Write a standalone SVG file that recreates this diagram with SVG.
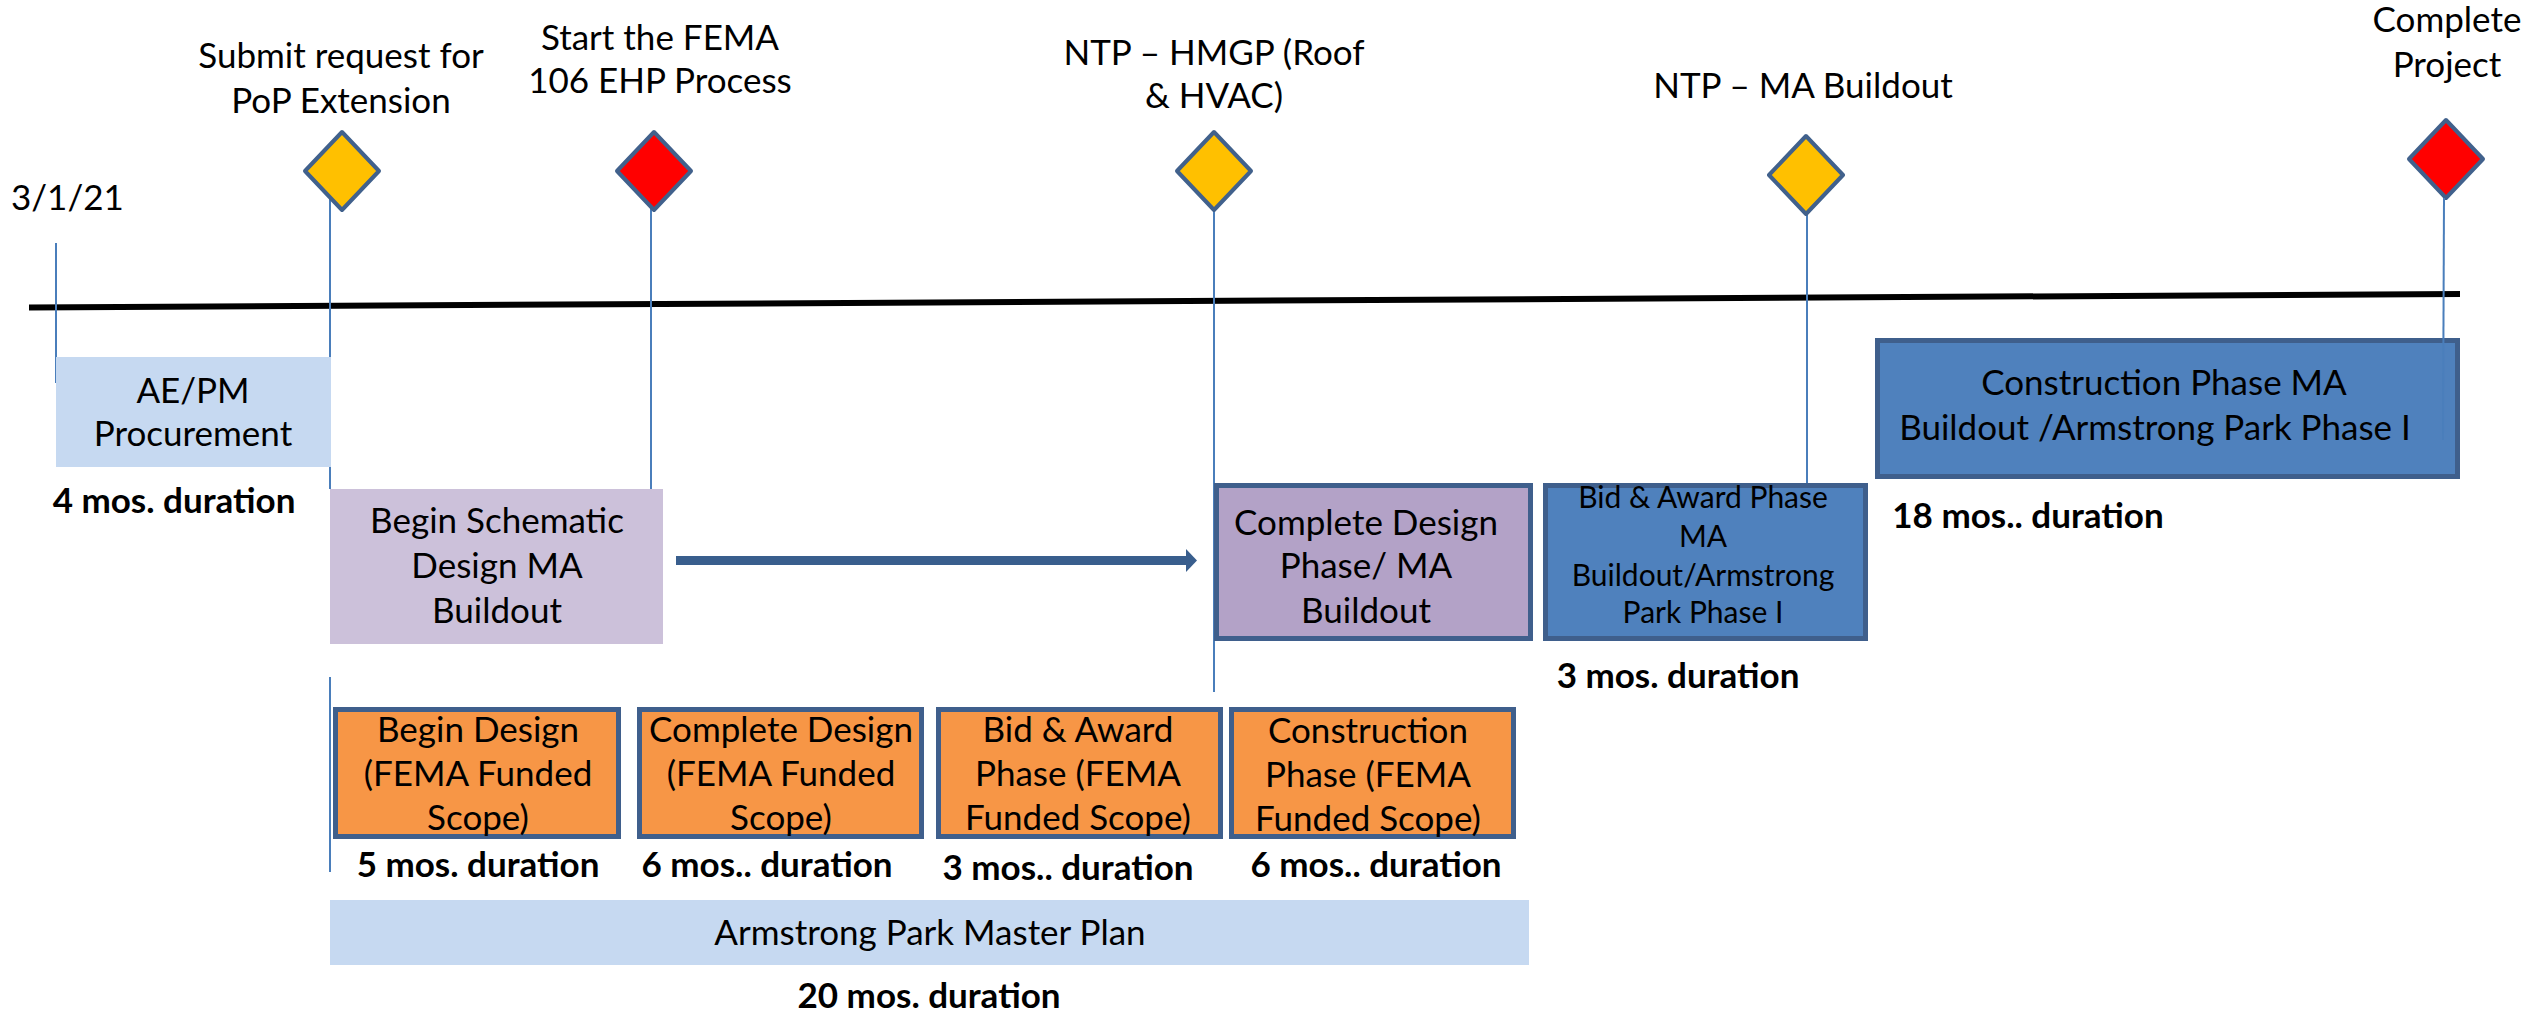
<svg xmlns="http://www.w3.org/2000/svg" width="2522" height="1014" viewBox="0 0 2522 1014">
<style>
text{font-family:Lato,"Liberation Sans",sans-serif;fill:#000;text-anchor:middle}
.t{font-size:35px}
.s{font-size:30px}
.b{font-size:35px;font-weight:bold}
.l{text-anchor:start}
.tick{stroke:#4A7EBB;stroke-width:2;fill:none}
.dia{stroke:#41618C;stroke-width:4;stroke-linejoin:round}
.box{stroke:#3F5F8C;stroke-width:5}
.or{fill:#F79646}
</style>
<defs>
<marker id="ah" markerUnits="userSpaceOnUse" markerWidth="12" markerHeight="24" viewBox="0 0 12 24" refX="0" refY="12" orient="auto">
<path d="M0,0.5 L11,12 L0,23.5 Z" fill="#395E8D"/>
</marker>
</defs>
<rect width="2522" height="1014" fill="#fff"/>
<g id="connectors">
<line x1="29" y1="307.5" x2="2460" y2="294" stroke="#000" stroke-width="6"/>
<line class="tick" x1="56" y1="243" x2="56" y2="383"/>
<line class="tick" x1="330" y1="197" x2="330" y2="489"/>
<line class="tick" x1="330" y1="677" x2="330" y2="872"/>
<line class="tick" x1="651" y1="208" x2="651" y2="489"/>
<line class="tick" x1="1214" y1="210" x2="1214" y2="692"/>
<line class="tick" x1="1807" y1="213" x2="1807" y2="483"/>
<line x1="676" y1="560.5" x2="1186" y2="560.5" stroke="#395E8D" stroke-width="9" marker-end="url(#ah)"/>
</g>
<g id="m1"><polygon class="dia" points="342,132 379,171 342,210 305,171" fill="#FFC000"/>
<text class="t" x="341" y="68">Submit request for</text><text class="t" x="341" y="113">PoP Extension</text></g>
<g id="m2"><polygon class="dia" points="654,132 691,171 654,210 617,171" fill="#FF0000"/>
<text class="t" x="660" y="50">Start the FEMA</text><text class="t" x="660" y="93">106 EHP Process</text></g>
<g id="m3"><polygon class="dia" points="1214,132 1251,171 1214,210 1177,171" fill="#FFC000"/>
<text class="t" x="1214" y="65">NTP – HMGP (Roof</text><text class="t" x="1214" y="108">&amp; HVAC)</text></g>
<g id="m4"><polygon class="dia" points="1806,136 1843,175 1806,214 1769,175" fill="#FFC000"/>
<text class="t" x="1803" y="98">NTP – MA Buildout</text></g>
<g id="m5"><polygon class="dia" points="2446,120 2483,159 2446,198 2409,159" fill="#FF0000"/>
<text class="t" x="2447" y="32">Complete</text><text class="t" x="2447" y="77">Project</text></g>
<g id="start"><text class="t l" x="11" y="210">3/1/21</text></g>
<g id="aepm"><rect x="56" y="357" width="275" height="110" fill="#C6D9F1"/>
<text class="t" x="193" y="403">AE/PM</text><text class="t" x="193" y="446">Procurement</text>
<text class="b" x="174" y="513">4 mos. duration</text></g>
<g id="schematic"><rect x="330" y="489" width="333" height="155" fill="#CCC1DA"/>
<text class="t" x="497" y="533">Begin Schematic</text><text class="t" x="497" y="578">Design MA</text><text class="t" x="497" y="623">Buildout</text></g>
<g id="completeMA"><rect class="box" x="1216.5" y="485.5" width="314" height="153" fill="#B3A2C7"/>
<text class="t" x="1366" y="535">Complete Design</text><text class="t" x="1366" y="578">Phase/ MA</text><text class="t" x="1366" y="623">Buildout</text></g>
<g id="bidMA"><rect class="box" x="1545.5" y="485.5" width="320" height="153" fill="#4F81BD"/>
<text class="s" x="1703" y="508">Bid &amp; Award Phase</text><text class="s" x="1703" y="547">MA</text><text class="s" x="1703" y="586">Buildout/Armstrong</text><text class="s" x="1703" y="623">Park Phase I</text>
<text class="b" x="1678" y="688">3 mos. duration</text></g>
<g id="constMA"><rect class="box" x="1877.5" y="340.5" width="580" height="136" fill="#4F81BD"/>
<text class="t" x="2164" y="395">Construction Phase MA</text><text class="t" x="2155" y="440">Buildout /Armstrong Park Phase I</text>
<text class="b" x="2028" y="528">18 mos.. duration</text></g>
<line class="tick" x1="2444" y1="198" x2="2443" y2="440"/>
<g id="o1"><rect class="box or" x="335.5" y="709.5" width="283" height="127"/>
<text class="t" x="478" y="742">Begin Design</text><text class="t" x="478" y="786">(FEMA Funded</text><text class="t" x="478" y="830">Scope)</text>
<text class="b" x="478" y="877">5 mos. duration</text></g>
<g id="o2"><rect class="box or" x="639.5" y="709.5" width="282" height="127"/>
<text class="t" x="781" y="742">Complete Design</text><text class="t" x="781" y="786">(FEMA Funded</text><text class="t" x="781" y="830">Scope)</text>
<text class="b" x="767" y="877">6 mos.. duration</text></g>
<g id="o3"><rect class="box or" x="938.5" y="709.5" width="282" height="127"/>
<text class="t" x="1078" y="742">Bid &amp; Award</text><text class="t" x="1078" y="786">Phase (FEMA</text><text class="t" x="1078" y="830">Funded Scope)</text>
<text class="b" x="1068" y="880">3 mos.. duration</text></g>
<g id="o4"><rect class="box or" x="1231.5" y="709.5" width="282" height="127"/>
<text class="t" x="1368" y="743">Construction</text><text class="t" x="1368" y="787">Phase (FEMA</text><text class="t" x="1368" y="831">Funded Scope)</text>
<text class="b" x="1376" y="877">6 mos.. duration</text></g>
<g id="master"><rect x="330" y="900" width="1199" height="65" fill="#C6D9F1"/>
<text class="t" x="930" y="945">Armstrong Park Master Plan</text>
<text class="b" x="929" y="1008">20 mos. duration</text></g>
</svg>
